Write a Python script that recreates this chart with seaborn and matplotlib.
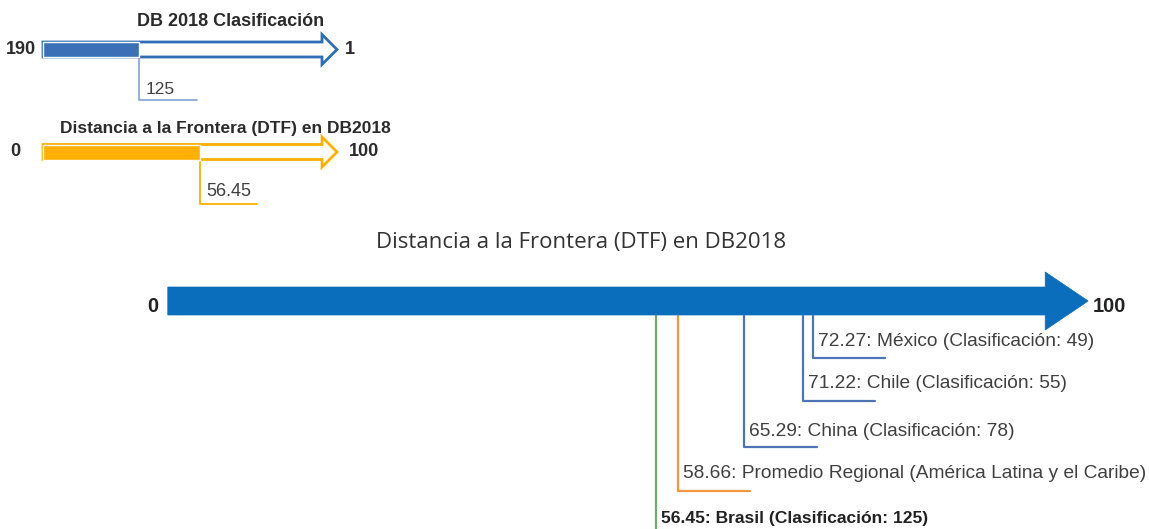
import numpy as np
import matplotlib.pyplot as plt
import seaborn as sns
from matplotlib.patches import Polygon

# --- data -------------------------------------------------------------
rank_range = [190, 1]
rank_brasil = 125
dtf_range = [0, 100]
dtf_brasil = 56.45

countries = ["México (Clasificación: 49)", "Chile (Clasificación: 55)",
             "China (Clasificación: 78)",
             "Promedio Regional (América Latina y el Caribe)",
             "Brasil (Clasificación: 125)"]
dtf_values = [72.27, 71.22, 65.29, 58.66, 56.45]

# --- layout (pixel units of a 1149x529 canvas) --------------------------
W, H = 1149, 529
label_y = [341, 384, 431, 474, 518]
line_bottom = [358, 401, 447, 491, 560]
line_len_px = [72, 72, 73, 72, 0]
line_colors = ["#4F74B6", "#4F74B6", "#4F74B6", "#F59540", "#68B06C"]
TEXT = "#404040"
DARK = "#2b2b2b"

sns.set_theme(style="white")
plt.rcParams['font.family'] = ['Liberation Sans', 'DejaVu Sans']

fig = plt.figure(figsize=(W / 100, H / 100), dpi=100)


def scaled_axes(px0, px1, v0, v1):
    """Full-figure axes where value v0 sits at pixel px0 and v1 at px1."""
    ax = fig.add_axes([0, 0, 1, 1], facecolor="none")
    s = (px1 - px0) / (v1 - v0)
    ax.set_xlim(v0 - px0 / s, v0 + (W - px0) / s)
    ax.set_ylim(H, 0)
    ax.axis("off")
    return ax, abs(s)


def arrow(ax, x0, x1, yc, shaft_h, head_h, head_px, ppu, fc, ec, lw):
    d = np.sign(x1 - x0)
    hl = d * head_px / ppu
    pts = [(x0, yc - shaft_h / 2), (x1, yc - shaft_h / 2), (x1, yc - head_h / 2),
           (x1 + hl, yc), (x1, yc + head_h / 2), (x1, yc + shaft_h / 2),
           (x0, yc + shaft_h / 2)]
    ax.add_patch(Polygon(pts, closed=True, facecolor=fc, edgecolor=ec,
                         lw=lw, joinstyle="miter", zorder=2))


def leader(ax, x, y0, y1, length, color, lw=1.6):
    sns.lineplot(x=[x, x, x + length], y=[y0, y1, y1], sort=False,
                 estimator=None, color=color, lw=lw, ax=ax, zorder=1)


# --- small ranking arrow -----------------------------------------------
ax1, s1 = scaled_axes(43, 322, rank_range[0], rank_range[1])
blue = "#2F6DB5"
arrow(ax1, rank_range[0], rank_range[1], 49.5, 15, 30, 15, s1, "white", blue, 2)
ax1.barh(49.5, rank_brasil - rank_range[0], left=rank_range[0], height=15,
         color="#3B70B6", zorder=3)
leader(ax1, rank_brasil, 57, 100, -58 / s1, "#8EAADB", lw=1.3)
ax1.text(rank_brasil - 7 / s1, 90, f"{rank_brasil}", color=TEXT, fontsize=12.5,
         va="center", ha="left")
fig.text(231 / W, 1 - 22 / H, "DB 2018 Clasificación", ha="center", va="center",
         fontsize=13, fontweight="bold", color=DARK)
ax1.text(rank_range[0] + 7 / s1, 49, f"{rank_range[0]}", ha="right", va="center",
         fontsize=13, fontweight="bold", color=DARK)
ax1.text(rank_range[1] - 23 / s1, 50, f"{rank_range[1]}", ha="left", va="center",
         fontsize=13, fontweight="bold", color=DARK)

# --- small DTF arrow -----------------------------------------------------
ax2, s2 = scaled_axes(43, 322, dtf_range[0], dtf_range[1])
orange = "#FFB000"
arrow(ax2, dtf_range[0], dtf_range[1], 152, 15, 30, 15, s2, "white", orange, 2)
ax2.barh(152, dtf_brasil - dtf_range[0], left=dtf_range[0], height=15,
         color=orange, zorder=3)
leader(ax2, dtf_brasil, 160, 204, 57 / s2, orange, lw=1.3)
ax2.text(dtf_brasil + 6 / s2, 192, f"{dtf_brasil:.2f}", color=TEXT, fontsize=13,
         va="center", ha="left")
fig.text(225 / W, 1 - 128 / H, "Distancia a la Frontera (DTF) en DB2018",
         ha="center", va="center", fontsize=12.5, fontweight="bold",
         color=DARK)
ax2.text(dtf_range[0] - 33 / s2, 152, f"{dtf_range[0]}", ha="left", va="center",
         fontsize=13, fontweight="bold", color=DARK)
ax2.text(dtf_range[1] + 27 / s2, 152, f"{dtf_range[1]}", ha="left", va="center",
         fontsize=13, fontweight="bold", color=DARK)

# --- main DTF arrow ------------------------------------------------------
ax3, s3 = scaled_axes(656, 813, dtf_values[4], dtf_values[0])
main_blue = "#0A6EBD"
shaft_start = dtf_range[0] + (168 - 96) / s3
arrow(ax3, shaft_start, dtf_range[1] - 43 / s3, 301, 28, 58, 43, s3,
      main_blue, main_blue, 0.5)
fig.text(581 / W, 1 - 243 / H, "Distancia a la Frontera (DTF) en DB2018",
         ha="center", va="center", fontsize=16, color="#333333",
         family=['Open Sans', 'DejaVu Sans'])
ax3.text(shaft_start - 15 / s3, 306, f"{dtf_range[0]}", ha="center",
         va="center", fontsize=14.5, fontweight="bold", color="#222222")
ax3.text(dtf_range[1] + 5 / s3, 307, f"{dtf_range[1]}", ha="left",
         va="center", fontsize=14.5, fontweight="bold", color="#222222")

for i, (v, name) in enumerate(zip(dtf_values, countries)):
    leader(ax3, v, 316, line_bottom[i], line_len_px[i] / s3, line_colors[i])
    bold = name.startswith("Brasil")
    ax3.text(v + 5 / s3, label_y[i], f"{v:.2f}: {name}", ha="left",
             va="center", fontsize=13.8 if not bold else 12.6,
             fontweight="bold" if bold else "normal",
             color="#222222" if bold else TEXT)

fig.savefig("out.png", dpi=100)
